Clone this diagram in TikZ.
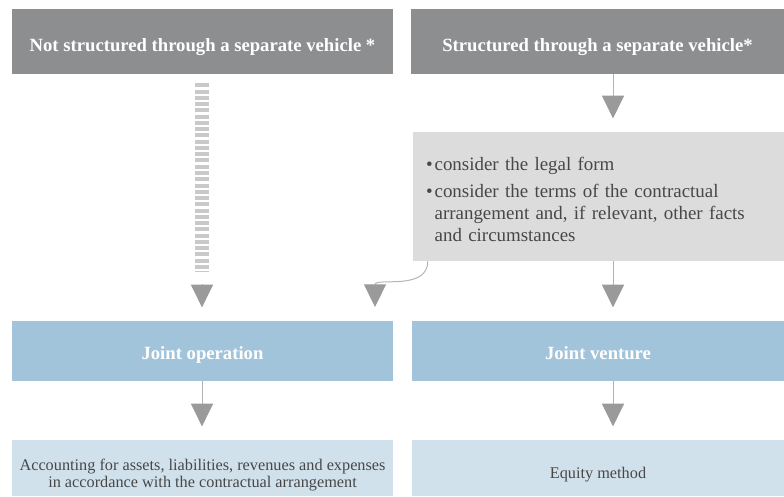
\documentclass[tikz,border=0pt]{standalone}
\usepackage{fontspec}
\setmainfont{Liberation Serif}
\usetikzlibrary{arrows.meta}
\definecolor{headgray}{HTML}{8D8E90}
\definecolor{critgray}{HTML}{DCDCDD}
\definecolor{jointblue}{HTML}{A2C4DA}
\definecolor{methodblue}{HTML}{D1E1EB}
\definecolor{tipgray}{HTML}{9A9A9B}
\definecolor{linegray}{HTML}{B4B4B4}
\definecolor{bargray}{HTML}{C9C9C9}
\definecolor{textgray}{HTML}{474747}

\begin{document}
\begin{tikzpicture}[x=0.75pt, y=-0.75pt]
    \useasboundingbox (0, 0) rectangle (784, 496);
    \begin{scope}[all/.style={inner sep=0pt, align=center},
        head/.style={all, fill=headgray, text=white, font=\fontsize{14}{16}\selectfont\bfseries, minimum height=48.75pt, text height=17.5pt, text depth=3pt},
        joint/.style={all, fill=jointblue, text=white, font=\fontsize{14}{16}\selectfont\bfseries, minimum height=45pt, text height=16pt, text depth=3pt},
        method/.style={all, fill=methodblue, text=textgray, font=\fontsize{12.2}{12.5}\selectfont, minimum height=42pt},
        flow/.style={draw=linegray, line width=0.75pt, -{Triangle[length=17pt, width=16.5pt, color=tipgray]}, shorten >=10pt},
        dashbar/.style={draw=bargray, line width=10.5pt, dash pattern=on 3pt off 1.7pt}]
        \node[head, minimum width=285.75pt] (nsv) at (202.5, 41.5) {Not structured through a separate vehicle *};
        \node[head, minimum width=279.75pt] (sv) at (597.5, 41.5) {Structured through a separate vehicle*};
        \node[all, fill=critgray, text=textgray, align=left, inner xsep=9.75pt, text width=258.75pt, minimum height=96.75pt,
            font=\fontsize{14.2}{16.5}\selectfont] (crit) at (598.5, 196.5)
            {\rule{0pt}{14pt}\textbullet\hspace{1.5pt}consider the legal form\\[3.75pt]
             \textbullet\hspace{1.5pt}consider the terms of the contractual\\
             \hphantom{\textbullet\hspace{1.5pt}}arrangement and, if relevant, other facts\\
             \hphantom{\textbullet\hspace{1.5pt}}and circumstances};
        \node[joint, minimum width=285.75pt] (jo) at (202.5, 351) {Joint operation};
        \node[joint, minimum width=279pt] (jv) at (598, 351) {Joint venture};
        \node[method, minimum width=285.75pt] (acc) at (202.5, 468)
            {\rule{0pt}{19pt}Accounting for assets, liabilities, revenues and expenses\\in accordance with the contractual arrangement};
        \node[method, minimum width=279pt, text height=19pt, text depth=3pt] (eq) at (598, 468) {Equity method};
        \coordinate (colL) at (202, 0);
        \coordinate (colR) at (613, 0);
        \coordinate (barend) at (202, 272);
        \coordinate (curveend) at (375, 307);
        \draw[dashbar] ([yshift=-6.75pt]nsv.south -| colL) -- (barend);
        \path (barend) edge[flow, shorten <=9.3pt] (jo.north -| colL);
        \path (sv.south -| colR) edge[flow] (crit.north -| colR);
        \path ([xshift=11.25pt]crit.south west) edge[flow, shorten >=0pt, out=-90, in=90, looseness=1.1] (curveend);
        \path (crit.south -| colR) edge[flow] (jv.north -| colR);
        \path (jo.south -| colL) edge[flow] (acc.north -| colL);
        \path (jv.south -| colR) edge[flow] (eq.north -| colR);
    \end{scope}
\end{tikzpicture}
\end{document}
